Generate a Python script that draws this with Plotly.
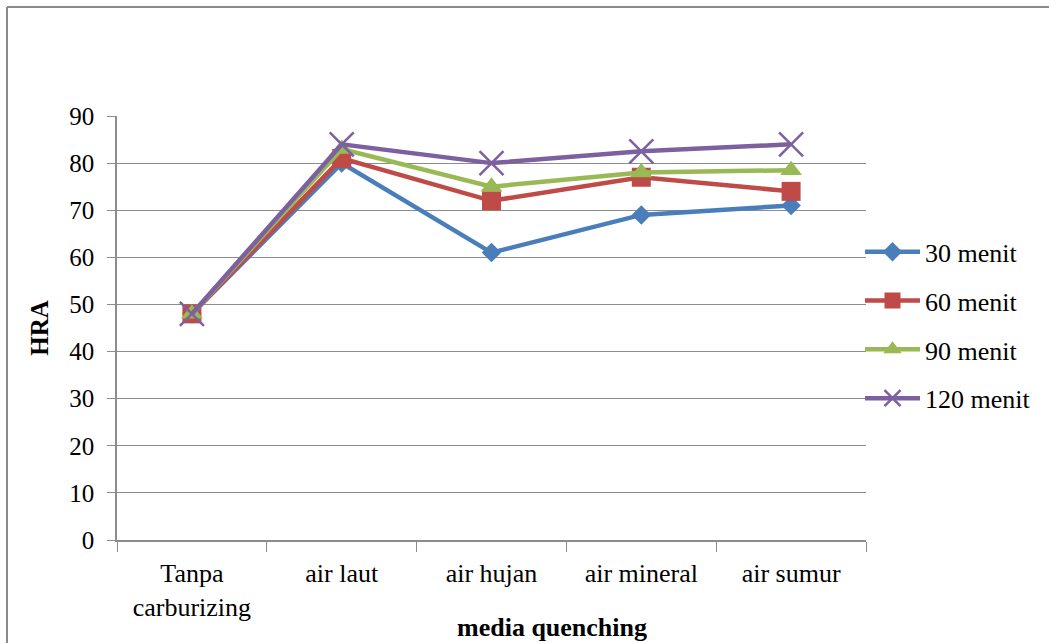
import plotly.graph_objects as go

# Hardness (HRA) by quenching medium for each holding time
media = ["Tanpa<br>carburizing", "air laut", "air hujan", "air mineral", "air sumur"]
hra_30 = [48, 80, 61, 69, 71]
hra_60 = [48, 81, 72, 77, 74]
hra_90 = [48, 83, 75, 78, 78.5]
hra_120 = [48, 84, 80, 82.5, 84]

series = [
    ("30 menit", hra_30, "#4A7EBB", "diamond", 15, 0),
    ("60 menit", hra_60, "#BE4B48", "square", 19, 0),
    ("90 menit", hra_90, "#98B954", "triangle-up", 19, 0),
    ("120 menit", hra_120, "#7D60A0", "x-thin", 24, 2.5),
]

FONT = "Liberation Serif"
GRID = "#8c8c8c"

fig = go.Figure()
for i, (name, vals, color, symbol, size, lw) in enumerate(series):
    fig.add_trace(go.Scatter(
        x=media, y=vals, name=name, mode="lines+markers",
        legendgroup=f"g{i}",
        line=dict(color=color, width=4.5),
        marker=dict(symbol=symbol, size=size, color=color,
                    line=dict(color=color, width=lw)),
    ))

fig.update_layout(
    width=1049, height=643,
    margin=dict(l=117, r=183, t=116, b=103, autoexpand=False),
    paper_bgcolor="white", plot_bgcolor="white",
    font=dict(family=FONT, size=25, color="black"),
    showlegend=True,
    legend=dict(x=(860 - 117) / 749, xanchor="left", y=0.735, yanchor="top",
                font=dict(family=FONT, size=26, color="black"),
                itemwidth=55,
                tracegroupgap=12, bgcolor="rgba(0,0,0,0)"),
    xaxis=dict(
        type="category", range=[-0.5, 4.5],
        tickson="boundaries", ticks="outside", ticklen=10,
        tickcolor=GRID, tickwidth=1,
        showline=True, linecolor=GRID, linewidth=1.5,
        showgrid=False, zeroline=False,
        ticklabelstandoff=9,
        tickfont=dict(family=FONT, size=26, color="black"),
    ),
    yaxis=dict(
        range=[0, 90], dtick=10, ticks="outside", ticklen=8,
        tickcolor=GRID, tickwidth=1,
        showline=True, linecolor=GRID, linewidth=1.5,
        showgrid=True, gridcolor=GRID, gridwidth=1,
        zeroline=False,
        ticklabelstandoff=8,
        tickfont=dict(family=FONT, size=25, color="black"),
        title=dict(text="<b>HRA</b>", font=dict(family=FONT, size=25), standoff=14),
    ),
    annotations=[
        dict(text="<b>media quenching</b>", xref="paper", yref="paper",
             x=(552 - 117) / 749, y=(540 - 627) / 424,
             xanchor="center", yanchor="middle", showarrow=False,
             font=dict(family=FONT, size=26, color="black")),
    ],
    shapes=[
        # chart frame (left and top edges)
        dict(type="line", xref="paper", yref="paper",
             x0=(7 - 117) / 749, x1=(7 - 117) / 749,
             y0=(540 - 7) / 424, y1=(540 - 650) / 424,
             line=dict(color="#8a8a8a", width=2)),
        dict(type="line", xref="paper", yref="paper",
             x0=(7 - 117) / 749, x1=(1060 - 117) / 749,
             y0=(540 - 7) / 424, y1=(540 - 7) / 424,
             line=dict(color="#8a8a8a", width=2)),
    ],
)

fig.write_html("out.html")
